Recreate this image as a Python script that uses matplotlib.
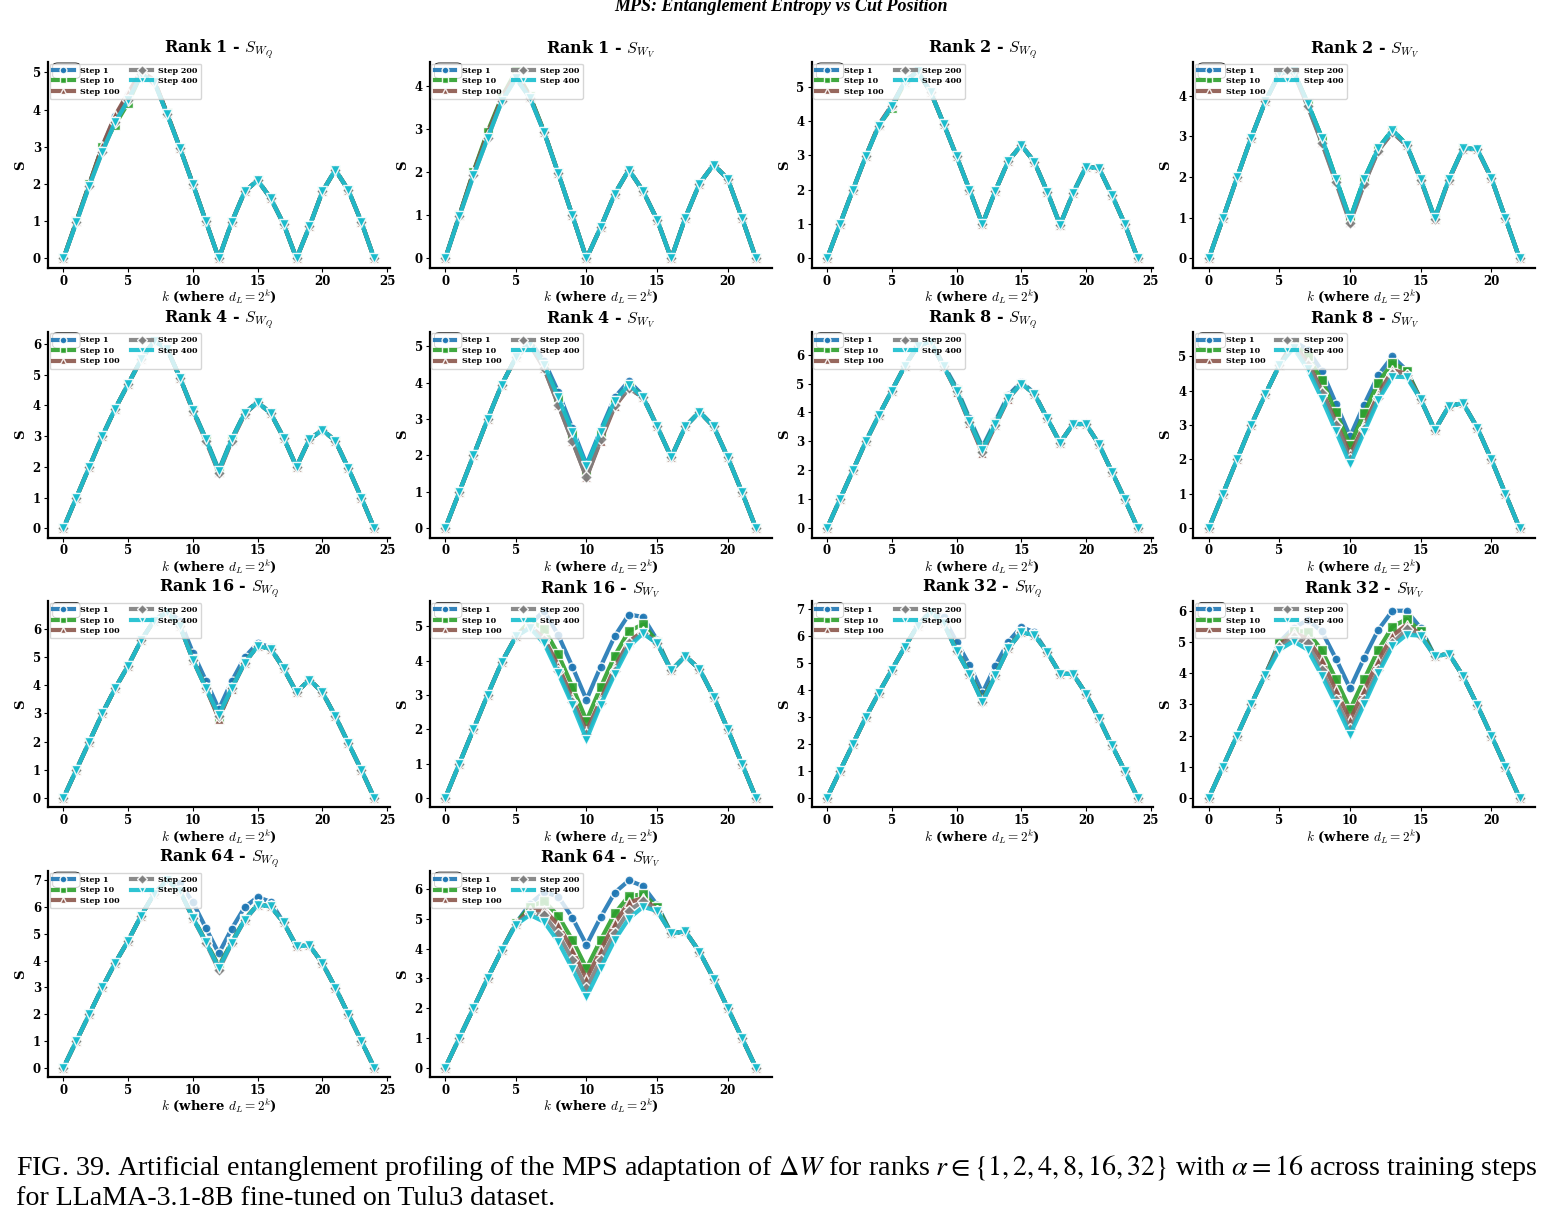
import matplotlib
matplotlib.use("Agg")
import matplotlib.pyplot as plt
from matplotlib.patches import FancyBboxPatch

plt.rcParams['font.family'] = 'DejaVu Serif'
plt.rcParams['mathtext.fontset'] = 'cm'

steps = ['Step 1', 'Step 10', 'Step 100', 'Step 200', 'Step 400']
colors = ['#1f77b4', '#2ca02c', '#8c564b', '#7f7f7f', '#17becf']
markers = ['o', 's', '^', 'D', 'v']

k_q = list(range(25))
k_v = list(range(23))

# entropy per cut, one list per training step (1, 10, 100, 200, 400)
rank1_q = [
    [0, 1.0, 2.0, 3.0, 3.82, 4.4, 5.0, 4.78, 3.9, 2.97, 2.0, 1.0, 0, 0.98, 1.8, 2.1, 1.62, 0.93, 0, 0.86, 1.8, 2.38, 1.84, 0.99, 0],
    [0, 1.0, 2.0, 3.0, 3.6, 4.18, 4.95, 4.78, 3.9, 2.97, 2.0, 1.0, 0, 0.98, 1.8, 2.1, 1.62, 0.93, 0, 0.86, 1.8, 2.38, 1.84, 0.99, 0],
    [0, 1.0, 2.0, 3.02, 3.85, 4.45, 5.03, 4.8, 3.9, 2.97, 2.0, 1.0, 0, 0.98, 1.8, 2.1, 1.62, 0.93, 0, 0.86, 1.8, 2.38, 1.84, 0.99, 0],
    [0, 0.97, 1.96, 2.87, 3.67, 4.25, 4.95, 4.75, 3.88, 2.96, 1.99, 1.0, 0, 0.98, 1.8, 2.1, 1.62, 0.93, 0, 0.86, 1.8, 2.38, 1.84, 0.99, 0],
    [0, 0.97, 1.96, 2.87, 3.67, 4.25, 4.95, 4.75, 3.88, 2.96, 1.99, 1.0, 0, 0.98, 1.8, 2.1, 1.62, 0.93, 0, 0.86, 1.8, 2.38, 1.84, 0.99, 0],
]
rank1_v = [
    [0, 1.0, 2.0, 2.9, 3.72, 4.3, 3.76, 2.94, 1.98, 1.0, 0, 0.72, 1.5, 2.06, 1.57, 0.9, 0, 0.95, 1.74, 2.18, 1.85, 0.95, 0],
    [0, 1.0, 2.02, 2.95, 3.75, 4.35, 3.78, 2.95, 1.98, 1.0, 0, 0.72, 1.5, 2.06, 1.57, 0.9, 0, 0.95, 1.74, 2.18, 1.85, 0.95, 0],
    [0, 1.0, 2.0, 2.9, 3.72, 4.3, 3.76, 2.94, 1.98, 1.0, 0, 0.72, 1.5, 2.06, 1.57, 0.9, 0, 0.95, 1.74, 2.18, 1.85, 0.95, 0],
    [0, 0.98, 1.93, 2.8, 3.65, 4.19, 3.73, 2.93, 1.98, 1.0, 0, 0.72, 1.5, 2.06, 1.57, 0.9, 0, 0.95, 1.74, 2.18, 1.85, 0.95, 0],
    [0, 0.98, 1.93, 2.8, 3.65, 4.19, 3.73, 2.93, 1.98, 1.0, 0, 0.72, 1.5, 2.06, 1.57, 0.9, 0, 0.95, 1.74, 2.18, 1.85, 0.95, 0],
]
rank2_q = [
    [0, 1.0, 2.0, 2.98, 3.88, 4.45, 5.15, 5.45, 4.85, 3.93, 2.98, 2.0, 1.0, 1.97, 2.84, 3.3, 2.82, 1.95, 0.98, 1.9, 2.67, 2.63, 1.85, 1.0, 0],
    [0, 1.0, 2.0, 2.98, 3.88, 4.38, 5.12, 5.44, 4.85, 3.93, 2.98, 2.0, 1.0, 1.97, 2.84, 3.3, 2.82, 1.95, 0.98, 1.9, 2.67, 2.63, 1.85, 1.0, 0],
    [0, 1.0, 2.0, 2.98, 3.9, 4.46, 5.15, 5.45, 4.85, 3.93, 2.98, 2.0, 1.0, 1.97, 2.84, 3.3, 2.82, 1.95, 0.98, 1.9, 2.67, 2.63, 1.85, 1.0, 0],
    [0, 1.0, 2.0, 2.98, 3.86, 4.44, 5.15, 5.45, 4.85, 3.93, 2.98, 2.0, 1.0, 1.97, 2.84, 3.3, 2.82, 1.95, 0.98, 1.9, 2.67, 2.63, 1.85, 1.0, 0],
    [0, 1.0, 2.0, 2.98, 3.86, 4.44, 5.15, 5.45, 4.85, 3.93, 2.98, 2.0, 1.0, 1.97, 2.84, 3.3, 2.82, 1.95, 0.98, 1.9, 2.67, 2.63, 1.85, 1.0, 0],
]
rank2_v = [
    [0, 0.99, 1.99, 2.97, 3.86, 4.55, 4.6, 3.82, 2.97, 1.96, 0.97, 1.95, 2.71, 3.16, 2.8, 1.95, 0.99, 1.95, 2.71, 2.69, 1.98, 0.99, 0],
    [0, 0.99, 1.99, 2.97, 3.86, 4.55, 4.6, 3.82, 2.97, 1.96, 0.97, 1.95, 2.71, 3.16, 2.8, 1.95, 0.99, 1.95, 2.71, 2.69, 1.98, 0.99, 0],
    [0, 0.99, 1.99, 2.97, 3.86, 4.55, 4.58, 3.76, 2.86, 1.9, 0.9, 1.85, 2.66, 3.1, 2.78, 1.93, 0.97, 1.93, 2.7, 2.68, 1.97, 0.99, 0],
    [0, 0.99, 1.99, 2.97, 3.86, 4.55, 4.58, 3.74, 2.84, 1.87, 0.87, 1.83, 2.65, 3.1, 2.78, 1.93, 0.97, 1.93, 2.7, 2.68, 1.97, 0.99, 0],
    [0, 0.99, 1.99, 2.97, 3.86, 4.55, 4.6, 3.82, 2.97, 1.96, 0.97, 1.95, 2.71, 3.16, 2.8, 1.95, 0.99, 1.95, 2.71, 2.69, 1.98, 0.99, 0],
]
rank4_q = [
    [0, 1.0, 2.0, 3.0, 3.9, 4.7, 5.5, 6.1, 5.85, 4.9, 3.88, 2.92, 1.9, 2.92, 3.77, 4.12, 3.75, 2.95, 2.0, 2.9, 3.2, 2.85, 1.95, 1.0, 0],
    [0, 1.0, 2.0, 3.0, 3.9, 4.7, 5.5, 6.1, 5.85, 4.9, 3.85, 2.9, 1.85, 2.9, 3.75, 4.1, 3.75, 2.95, 2.0, 2.9, 3.2, 2.85, 1.95, 1.0, 0],
    [0, 1.0, 2.0, 3.0, 3.9, 4.7, 5.5, 6.1, 5.85, 4.9, 3.83, 2.87, 1.82, 2.87, 3.73, 4.1, 3.75, 2.95, 2.0, 2.9, 3.2, 2.85, 1.95, 1.0, 0],
    [0, 1.0, 2.0, 3.0, 3.9, 4.7, 5.5, 6.1, 5.85, 4.9, 3.82, 2.85, 1.8, 2.85, 3.72, 4.1, 3.75, 2.95, 2.0, 2.9, 3.2, 2.85, 1.95, 1.0, 0],
    [0, 1.0, 2.0, 3.0, 3.9, 4.7, 5.5, 6.1, 5.85, 4.9, 3.85, 2.9, 1.85, 2.9, 3.75, 4.1, 3.75, 2.95, 2.0, 2.9, 3.2, 2.85, 1.95, 1.0, 0],
]
rank4_v = [
    [0, 1.0, 2.0, 3.0, 3.95, 4.7, 5.15, 4.6, 3.75, 2.75, 1.75, 2.7, 3.6, 4.05, 3.65, 2.8, 1.95, 2.8, 3.2, 2.8, 1.95, 1.0, 0],
    [0, 1.0, 2.0, 3.0, 3.95, 4.7, 5.1, 4.5, 3.6, 2.6, 1.6, 2.6, 3.5, 3.95, 3.62, 2.8, 1.95, 2.8, 3.2, 2.8, 1.95, 1.0, 0],
    [0, 1.0, 2.0, 3.0, 3.95, 4.7, 5.05, 4.4, 3.4, 2.4, 1.4, 2.4, 3.35, 3.85, 3.6, 2.8, 1.95, 2.8, 3.2, 2.8, 1.95, 1.0, 0],
    [0, 1.0, 2.0, 3.0, 3.95, 4.7, 5.05, 4.4, 3.4, 2.4, 1.4, 2.45, 3.4, 3.85, 3.6, 2.8, 1.95, 2.8, 3.2, 2.8, 1.95, 1.0, 0],
    [0, 1.0, 2.0, 3.0, 3.95, 4.7, 5.1, 4.5, 3.6, 2.65, 1.7, 2.65, 3.5, 3.95, 3.6, 2.8, 1.95, 2.8, 3.2, 2.8, 1.95, 1.0, 0],
]
rank8_q = [
    [0, 1.0, 2.0, 3.0, 3.9, 4.75, 5.6, 6.3, 6.47, 5.65, 4.85, 3.8, 2.8, 3.7, 4.6, 5.05, 4.68, 3.8, 2.95, 3.6, 3.6, 2.9, 1.95, 1.0, 0],
    [0, 1.0, 2.0, 3.0, 3.9, 4.75, 5.6, 6.3, 6.45, 5.6, 4.78, 3.72, 2.72, 3.62, 4.52, 5.0, 4.65, 3.8, 2.95, 3.6, 3.6, 2.9, 1.95, 1.0, 0],
    [0, 1.0, 2.0, 3.0, 3.9, 4.75, 5.6, 6.3, 6.45, 5.6, 4.72, 3.65, 2.6, 3.55, 4.48, 5.0, 4.65, 3.8, 2.95, 3.6, 3.6, 2.9, 1.95, 1.0, 0],
    [0, 1.0, 2.0, 3.0, 3.9, 4.75, 5.6, 6.3, 6.45, 5.6, 4.73, 3.67, 2.65, 3.57, 4.5, 5.0, 4.65, 3.8, 2.95, 3.6, 3.6, 2.9, 1.95, 1.0, 0],
    [0, 1.0, 2.0, 3.0, 3.9, 4.75, 5.6, 6.3, 6.45, 5.6, 4.75, 3.7, 2.7, 3.6, 4.5, 5.0, 4.65, 3.8, 2.95, 3.6, 3.6, 2.9, 1.95, 1.0, 0],
]
rank8_v = [
    [0, 1.0, 2.0, 3.0, 3.9, 4.75, 5.45, 5.2, 4.58, 3.63, 2.67, 3.6, 4.46, 5.0, 4.6, 3.75, 2.85, 3.56, 3.64, 2.93, 2.0, 1.0, 0],
    [0, 1.0, 2.0, 3.0, 3.9, 4.75, 5.38, 5.0, 4.31, 3.37, 2.42, 3.35, 4.24, 4.82, 4.58, 3.75, 2.85, 3.56, 3.64, 2.93, 2.0, 1.0, 0],
    [0, 1.0, 2.0, 3.0, 3.9, 4.75, 5.33, 4.85, 4.0, 3.1, 2.15, 3.0, 3.9, 4.6, 4.5, 3.75, 2.85, 3.56, 3.64, 2.93, 2.0, 1.0, 0],
    [0, 1.0, 2.0, 3.0, 3.9, 4.75, 5.3, 4.75, 3.95, 3.0, 2.0, 2.9, 3.8, 4.5, 4.45, 3.75, 2.85, 3.56, 3.64, 2.93, 2.0, 1.0, 0],
    [0, 1.0, 2.0, 3.0, 3.9, 4.75, 5.25, 4.63, 3.77, 2.82, 1.86, 2.8, 3.73, 4.41, 4.4, 3.75, 2.85, 3.56, 3.64, 2.93, 2.0, 1.0, 0],
]
rank16_q = [
    [0, 1.0, 2.0, 3.0, 3.9, 4.7, 5.6, 6.3, 6.65, 6.3, 5.16, 4.17, 3.15, 4.15, 5.0, 5.5, 5.35, 4.6, 3.75, 4.2, 3.75, 2.9, 1.95, 1.0, 0],
    [0, 1.0, 2.0, 3.0, 3.9, 4.7, 5.6, 6.3, 6.6, 6.1, 4.92, 3.92, 2.85, 3.9, 4.82, 5.4, 5.3, 4.6, 3.75, 4.2, 3.75, 2.9, 1.95, 1.0, 0],
    [0, 1.0, 2.0, 3.0, 3.9, 4.7, 5.6, 6.3, 6.6, 6.1, 4.9, 3.9, 2.82, 3.88, 4.8, 5.4, 5.3, 4.6, 3.75, 4.2, 3.75, 2.9, 1.95, 1.0, 0],
    [0, 1.0, 2.0, 3.0, 3.9, 4.7, 5.6, 6.3, 6.6, 6.1, 4.9, 3.9, 2.9, 3.9, 4.8, 5.4, 5.3, 4.6, 3.75, 4.2, 3.75, 2.9, 1.95, 1.0, 0],
    [0, 1.0, 2.0, 3.0, 3.9, 4.7, 5.6, 6.3, 6.6, 6.1, 4.9, 3.9, 2.95, 3.9, 4.8, 5.4, 5.3, 4.6, 3.75, 4.2, 3.75, 2.9, 1.95, 1.0, 0],
]
rank16_v = [
    [0, 1.0, 2.0, 3.0, 3.95, 4.7, 5.05, 5.45, 4.74, 3.82, 2.86, 3.82, 4.71, 5.34, 5.27, 4.6, 3.71, 4.13, 3.75, 2.95, 2.0, 1.0, 0],
    [0, 1.0, 2.0, 3.0, 3.95, 4.7, 5.15, 4.93, 4.18, 3.24, 2.25, 3.22, 4.14, 4.86, 5.05, 4.55, 3.71, 4.13, 3.75, 2.95, 2.0, 1.0, 0],
    [0, 1.0, 2.0, 3.0, 3.95, 4.7, 5.0, 4.65, 3.85, 2.9, 1.95, 2.85, 3.8, 4.55, 4.85, 4.5, 3.71, 4.13, 3.75, 2.95, 2.0, 1.0, 0],
    [0, 1.0, 2.0, 3.0, 3.95, 4.7, 4.97, 4.6, 3.7, 2.8, 1.85, 2.75, 3.7, 4.5, 4.8, 4.5, 3.71, 4.13, 3.75, 2.95, 2.0, 1.0, 0],
    [0, 1.0, 2.0, 3.0, 3.95, 4.7, 4.95, 4.5, 3.63, 2.71, 1.7, 2.71, 3.6, 4.4, 4.79, 4.5, 3.71, 4.13, 3.75, 2.95, 2.0, 1.0, 0],
]
rank32_q = [
    [0, 1.0, 2.0, 3.0, 3.9, 4.75, 5.6, 6.4, 6.95, 6.7, 5.8, 4.94, 3.9, 4.9, 5.8, 6.35, 6.15, 5.42, 4.61, 4.6, 3.87, 2.95, 1.95, 1.0, 0],
    [0, 1.0, 2.0, 3.0, 3.9, 4.75, 5.6, 6.4, 6.9, 6.5, 5.5, 4.63, 3.65, 4.58, 5.57, 6.17, 6.06, 5.42, 4.61, 4.6, 3.87, 2.95, 1.95, 1.0, 0],
    [0, 1.0, 2.0, 3.0, 3.9, 4.75, 5.6, 6.4, 6.9, 6.5, 5.48, 4.6, 3.6, 4.56, 5.55, 6.15, 6.05, 5.42, 4.61, 4.6, 3.87, 2.95, 1.95, 1.0, 0],
    [0, 1.0, 2.0, 3.0, 3.9, 4.75, 5.6, 6.4, 6.9, 6.5, 5.46, 4.6, 3.57, 4.55, 5.55, 6.15, 6.05, 5.42, 4.61, 4.6, 3.87, 2.95, 1.95, 1.0, 0],
    [0, 1.0, 2.0, 3.0, 3.9, 4.75, 5.6, 6.4, 6.9, 6.5, 5.46, 4.6, 3.55, 4.55, 5.55, 6.15, 6.05, 5.42, 4.61, 4.6, 3.87, 2.95, 1.95, 1.0, 0],
]
rank32_v = [
    [0, 1.0, 2.0, 3.0, 3.95, 5.0, 5.45, 5.7, 5.34, 4.46, 3.51, 4.49, 5.39, 6.0, 6.0, 5.45, 4.54, 4.62, 3.9, 2.98, 2.0, 1.0, 0],
    [0, 1.0, 2.0, 3.0, 3.95, 4.95, 5.35, 5.33, 4.73, 3.8, 2.84, 3.8, 4.75, 5.49, 5.73, 5.35, 4.54, 4.62, 3.9, 2.98, 2.0, 1.0, 0],
    [0, 1.0, 2.0, 3.0, 3.95, 4.9, 5.3, 5.1, 4.41, 3.45, 2.5, 3.45, 4.4, 5.2, 5.55, 5.25, 4.54, 4.62, 3.9, 2.98, 2.0, 1.0, 0],
    [0, 1.0, 2.0, 3.0, 3.95, 4.85, 5.15, 4.95, 4.1, 3.15, 2.2, 3.15, 4.1, 4.95, 5.4, 5.2, 4.54, 4.62, 3.9, 2.98, 2.0, 1.0, 0],
    [0, 1.0, 2.0, 3.0, 3.95, 4.75, 5.02, 4.75, 3.92, 3.0, 2.03, 3.0, 3.99, 4.86, 5.23, 5.2, 4.54, 4.62, 3.9, 2.98, 2.0, 1.0, 0],
]
rank64_q = [
    [0, 1.0, 2.0, 3.0, 3.92, 4.75, 5.68, 6.5, 7.0, 6.9, 6.18, 5.22, 4.27, 5.2, 6.0, 6.38, 6.2, 5.43, 4.54, 4.57, 3.9, 2.99, 2.0, 1.0, 0],
    [0, 1.0, 2.0, 3.0, 3.92, 4.75, 5.68, 6.5, 7.0, 6.6, 5.62, 4.72, 3.8, 4.7, 5.55, 6.1, 6.04, 5.43, 4.54, 4.57, 3.9, 2.99, 2.0, 1.0, 0],
    [0, 1.0, 2.0, 3.0, 3.92, 4.75, 5.68, 6.5, 7.0, 6.6, 5.6, 4.7, 3.75, 4.68, 5.53, 6.09, 6.03, 5.43, 4.54, 4.57, 3.9, 2.99, 2.0, 1.0, 0],
    [0, 1.0, 2.0, 3.0, 3.92, 4.75, 5.68, 6.5, 7.0, 6.6, 5.58, 4.67, 3.65, 4.65, 5.52, 6.08, 6.03, 5.43, 4.54, 4.57, 3.9, 2.99, 2.0, 1.0, 0],
    [0, 1.0, 2.0, 3.0, 3.92, 4.75, 5.68, 6.5, 7.0, 6.6, 5.6, 4.69, 3.73, 4.67, 5.53, 6.09, 6.03, 5.43, 4.54, 4.57, 3.9, 2.99, 2.0, 1.0, 0],
]
rank64_v = [
    [0, 1.0, 2.0, 3.0, 3.95, 4.85, 5.5, 5.9, 5.75, 5.04, 4.12, 5.05, 5.88, 6.29, 6.1, 5.47, 4.51, 4.58, 3.89, 2.99, 2.0, 1.0, 0],
    [0, 1.0, 2.0, 3.0, 3.95, 4.85, 5.4, 5.6, 5.1, 4.29, 3.34, 4.29, 5.18, 5.77, 5.82, 5.4, 4.51, 4.58, 3.89, 2.99, 2.0, 1.0, 0],
    [0, 1.0, 2.0, 3.0, 3.95, 4.83, 5.3, 5.3, 4.8, 3.95, 2.98, 3.95, 4.85, 5.55, 5.7, 5.3, 4.51, 4.58, 3.89, 2.99, 2.0, 1.0, 0],
    [0, 1.0, 2.0, 3.0, 3.95, 4.82, 5.2, 5.13, 4.49, 3.62, 2.66, 3.62, 4.54, 5.27, 5.6, 5.27, 4.51, 4.58, 3.89, 2.99, 2.0, 1.0, 0],
    [0, 1.0, 2.0, 3.0, 3.95, 4.8, 5.13, 4.9, 4.23, 3.32, 2.38, 3.35, 4.29, 5.01, 5.4, 5.27, 4.51, 4.58, 3.89, 2.99, 2.0, 1.0, 0],
]

panels = [
    ('Rank 1 - $S_{W_Q}$', k_q, rank1_q), ('Rank 1 - $S_{W_V}$', k_v, rank1_v),
    ('Rank 2 - $S_{W_Q}$', k_q, rank2_q), ('Rank 2 - $S_{W_V}$', k_v, rank2_v),
    ('Rank 4 - $S_{W_Q}$', k_q, rank4_q), ('Rank 4 - $S_{W_V}$', k_v, rank4_v),
    ('Rank 8 - $S_{W_Q}$', k_q, rank8_q), ('Rank 8 - $S_{W_V}$', k_v, rank8_v),
    ('Rank 16 - $S_{W_Q}$', k_q, rank16_q), ('Rank 16 - $S_{W_V}$', k_v, rank16_v),
    ('Rank 32 - $S_{W_Q}$', k_q, rank32_q), ('Rank 32 - $S_{W_V}$', k_v, rank32_v),
    ('Rank 64 - $S_{W_Q}$', k_q, rank64_q), ('Rank 64 - $S_{W_V}$', k_v, rank64_v),
]

fig, axes = plt.subplots(4, 4, figsize=(15.61, 12.29), dpi=100)
fig.subplots_adjust(left=0.0307, right=0.9834, top=0.9496, bottom=0.1237,
                    wspace=0.117, hspace=0.31)

for ax in axes.flat[len(panels):]:
    ax.axis('off')

for ax, (title, k, series) in zip(axes.flat, panels):
    for vals, lab, c, m in zip(series, steps, colors, markers):
        ax.plot(k, vals, linestyle='-', color=c, marker=m, markersize=6.5,
                markeredgecolor='white', markeredgewidth=1, linewidth=3,
                alpha=0.9, label=lab)
    ax.set_title(title, fontsize=11.5, fontweight='bold', pad=6)
    ax.set_xlabel('$k$ (where $d_L = 2^k$)', fontsize=9.5, fontweight='bold', labelpad=0)
    ax.set_ylabel('S', fontsize=9.5, fontweight='bold', labelpad=4)
    ax.spines['top'].set_visible(False)
    ax.spines['right'].set_visible(False)
    ax.spines['left'].set_linewidth(1.6)
    ax.spines['bottom'].set_linewidth(1.6)
    ax.tick_params(labelsize=8.5, length=3, pad=2)
    for t in ax.get_xticklabels() + ax.get_yticklabels():
        t.set_fontweight('bold')
    ax.add_patch(FancyBboxPatch((0.014, 0.92), 0.08, 0.075, transform=ax.transAxes,
                                boxstyle='round,pad=0,rounding_size=0.015',
                                facecolor='white', edgecolor='black', linewidth=0.6,
                                zorder=5, clip_on=False))
    leg = ax.legend(loc='upper left', ncol=2, frameon=True, framealpha=0.8,
                    borderaxespad=0.2, handlelength=2.6, columnspacing=1.4,
                    labelspacing=0.3, markerscale=0.75,
                    prop={'weight': 'bold', 'size': 5.8})
    leg.set_zorder(6)

fig.text(0.5, 1 - 11 / 1229, 'MPS: Entanglement Entropy vs Cut Position', ha='center',
         va='baseline', fontsize=13, fontweight='bold', fontstyle='italic',
         family='Liberation Serif')

fig.text(0.01, 1 - 1175 / 1229,
         r'FIG. 39. Artificial entanglement profiling of the MPS adaptation of $\Delta W$ for ranks '
         r'$r \in \{1, 2, 4, 8, 16, 32\}$ with $\alpha = 16$ across training steps',
         ha='left', va='baseline', fontsize=20.2, family='Liberation Serif',
         math_fontfamily='stix')
fig.text(0.01, 1 - 1205 / 1229, 'for LLaMA-3.1-8B fine-tuned on Tulu3 dataset.',
         ha='left', va='baseline', fontsize=20.2, family='Liberation Serif')

fig.savefig('out.png', dpi=100)
